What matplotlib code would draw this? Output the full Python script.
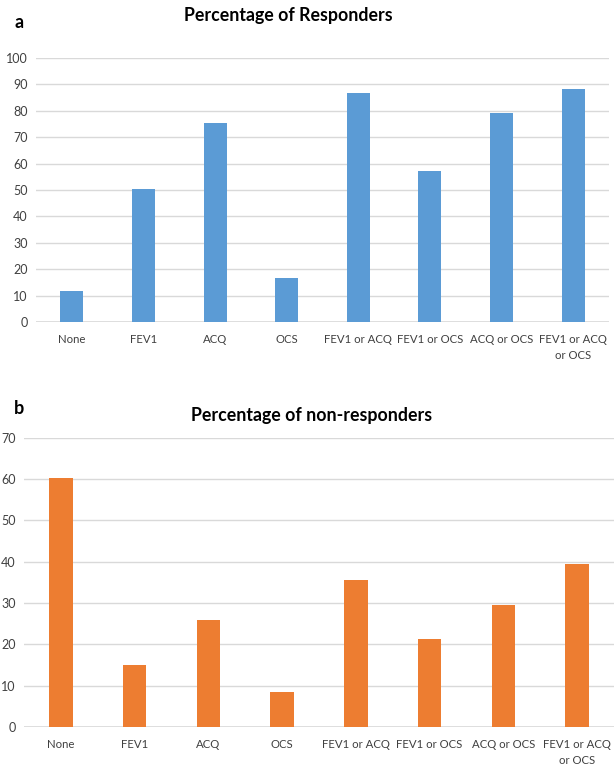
import matplotlib
matplotlib.use("Agg")
import matplotlib.pyplot as plt
import numpy as np

plt.rcParams['font.family'] = ['Lato', 'DejaVu Sans']

categories = ["None", "FEV1", "ACQ", "OCS", "FEV1 or ACQ", "FEV1 or OCS",
              "ACQ or OCS", "FEV1 or ACQ\nor OCS"]
responders = [11.6, 50.4, 75.4, 16.7, 86.7, 57.1, 79.2, 88.3]
non_responders = [60.3, 14.9, 25.8, 8.4, 35.5, 21.4, 29.4, 39.5]

W, H = 615, 767
fig = plt.figure(figsize=(W / 100, H / 100), dpi=100)

def make_ax(left, top, right, bottom):
    return fig.add_axes([left / W, 1 - bottom / H, (right - left) / W, (bottom - top) / H])

def style(ax, values, color, ymax):
    x = np.arange(len(categories))
    ax.set_axisbelow(True)
    ax.bar(x, values, width=0.32, color=color, zorder=2)
    ax.set_xlim(-0.5, len(categories) - 0.5)
    ax.set_ylim(0, ymax)
    ax.set_yticks(np.arange(0, ymax + 1, 10))
    ax.yaxis.grid(True, color='#D9D9D9', linewidth=1.0)
    for s in ax.spines.values():
        s.set_visible(False)
    ax.axhline(0, color='#D9D9D9', linewidth=1.2, zorder=1)
    ax.set_xticks(x)
    ax.set_xticklabels(categories, fontsize=8.2, color='#404040', linespacing=1.45, va='top')
    ax.tick_params(axis='x', length=0, pad=9)
    ax.tick_params(axis='y', length=0, pad=6, labelsize=9, labelcolor='#404040')

ax1 = make_ax(36, 58, 609, 322)
style(ax1, responders, '#5B9BD5', 100)

ax2 = make_ax(24, 437.7, 614, 727)
style(ax2, non_responders, '#ED7D31', 70)

fig.text(288 / W, 1 - 16 / H, "Percentage of Responders", ha='center', va='center',
         fontsize=12.8, fontweight='bold', color='black')
fig.text(19 / W, 1 - 22 / H, "a", ha='center', va='center', fontsize=13,
         fontweight='bold', color='black')
fig.text(312 / W, 1 - 415 / H, "Percentage of non-responders", ha='center', va='center',
         fontsize=12.8, fontweight='bold', color='black')
fig.text(19 / W, 1 - 409 / H, "b", ha='center', va='center', fontsize=13,
         fontweight='bold', color='black')

fig.savefig("out.png", dpi=100)
